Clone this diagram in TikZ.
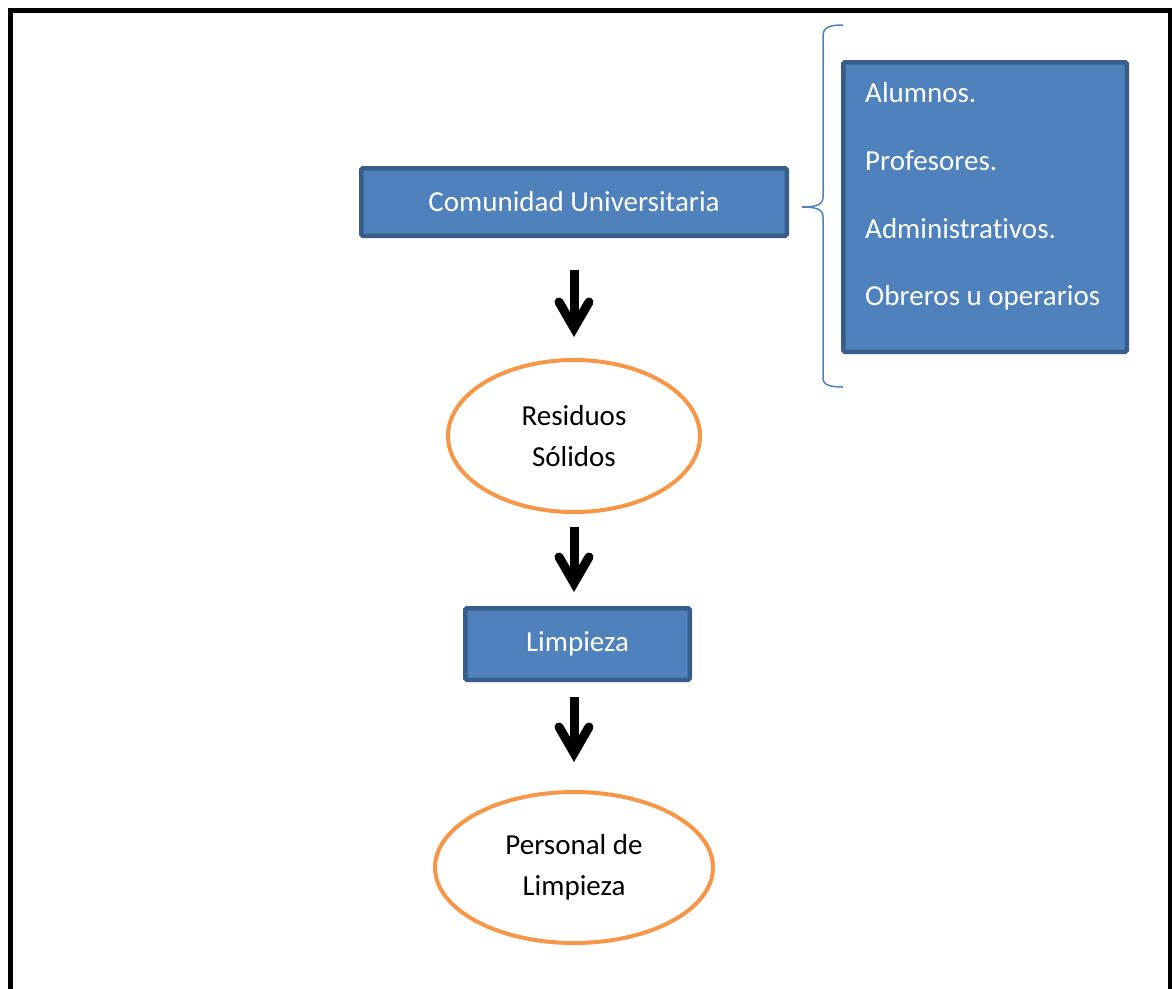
\documentclass[tikz,border=0pt]{standalone}
\usepackage{fontspec}
\setmainfont{Carlito}[Ligatures=NoCommon]
\usetikzlibrary{arrows.meta,shapes.geometric}
\definecolor{boxfill}{HTML}{4F81BD}
\definecolor{boxline}{HTML}{385D8A}
\definecolor{ovalline}{HTML}{F79646}
\begin{document}
\begin{tikzpicture}[x=1pt,y=-1pt,
  bluebox/.style={draw=boxline, line width=4.5pt, fill=boxfill, rounded corners=1.5pt,
    text=white, font=\fontsize{29}{34}\selectfont, inner sep=0pt},
  oval/.style={ellipse, draw=ovalline, line width=4pt, fill=white, align=center,
    font=\fontsize{29}{41}\selectfont, inner sep=0pt},
  listtext/.style={anchor=base west, text=white, font=\fontsize{29}{34}\selectfont, inner sep=0pt},
  flowarrow/.style={line width=9pt, -{Straight Barb[length=26pt,width=30pt,line cap=round]}},
  bracestyle/.style={draw=boxfill, line width=1.5pt}]
\useasboundingbox (0,0) rectangle (1172,988);
\clip (0,0) rectangle (1172,988);
% frame
\draw[line width=5pt] (10.5,1000) -- (10.5,10.5) -- (1170,10.5) -- (1170,1000);
% nodes
\node[bluebox, minimum width=425.5pt, minimum height=67.5pt] (com) at (574,202) {Comunidad Universitaria};
\node[oval, minimum width=252pt, minimum height=152pt] (res) at (574,436) {Residuos\\Sólidos};
\node[bluebox, minimum width=224.5pt, minimum height=71.5pt] (lim) at (577.5,644) {Limpieza};
\node[oval, minimum width=278pt, minimum height=151pt] (per) at (574,867.5) {Personal de\\Limpieza};
\node[bluebox, minimum width=283.5pt, minimum height=289.5pt] (list) at (985,207) {};
\node[listtext] (t1) at (865,102) {Alumnos.};
\node[listtext] (t2) at (865,170) {Profesores.};
\node[listtext] (t3) at (865,238) {Administrativos.};
\node[listtext] (t4) at (865,305) {Obreros u operarios};
% arrows
\draw[flowarrow, shorten <=32pt, shorten >=21pt] (com.south) -- (com.south |- res.north);
\draw[flowarrow, shorten <=13pt, shorten >=14pt] (res.south) -- (res.south |- lim.north);
\draw[flowarrow, shorten <=15pt, shorten >=28pt] (per.north |- lim.south) -- (per.north);
% brace
\coordinate (btop) at (843,25);
\coordinate (bmid) at (802,207);
\coordinate (bbot) at (843,387);
\draw[bracestyle] (btop) .. controls (830,25) and (823,27) .. (823,36) -- (823,197)
  .. controls (823,204) and (818,207) .. (bmid)
  .. controls (818,207) and (823,210) .. (823,217) -- (823,378)
  .. controls (823,385) and (830,387) .. (bbot);
\end{tikzpicture}
\end{document}
